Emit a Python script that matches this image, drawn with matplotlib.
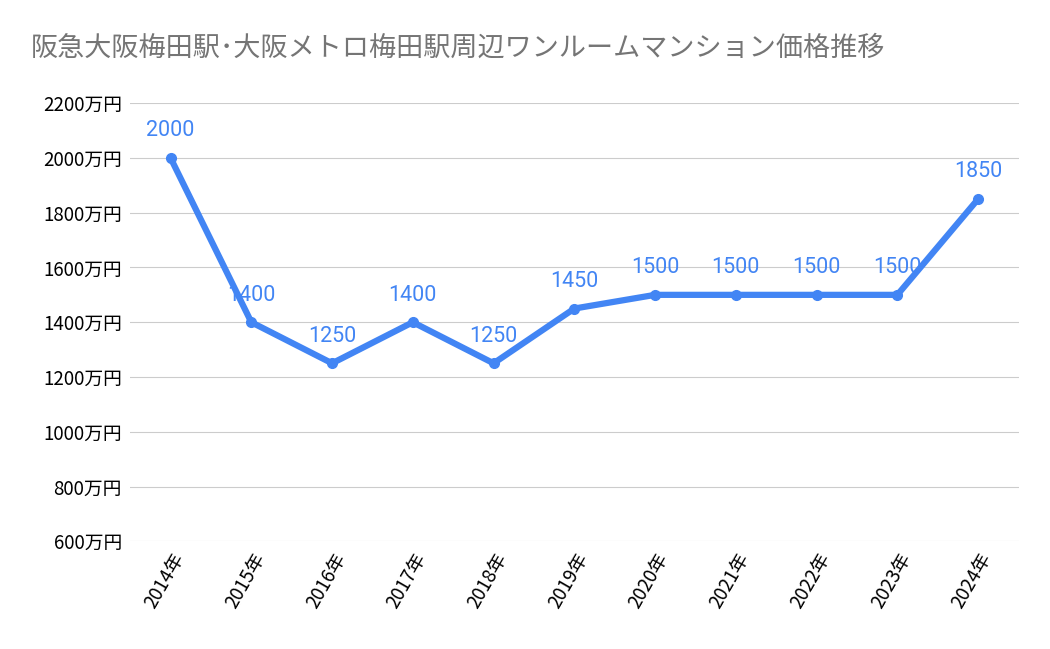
import matplotlib
matplotlib.use("Agg")
import matplotlib.pyplot as plt

plt.rcParams["font.family"] = ["Roboto", "Noto Sans CJK JP"]

years = ["2014年","2015年","2016年","2017年","2018年","2019年","2020年","2021年","2022年","2023年","2024年"]
prices = [2000,1400,1250,1400,1250,1450,1500,1500,1500,1500,1850]
yticks = [600,800,1000,1200,1400,1600,1800,2000,2200]
title = "阪急大阪梅田駅･大阪メトロ梅田駅周辺ワンルームマンション価格推移"

fig = plt.figure(figsize=(10.5,6.49), dpi=100)
ax = fig.add_axes([0.124,0.166,0.846,0.675])
x = list(range(len(years)))
color = "#4285F4"
ax.plot(x, prices, color=color, lw=4.5, marker="o", ms=7, solid_capstyle="round", zorder=3)
for xi, v in zip(x, prices):
    ax.annotate(str(v), (xi, v), xytext=(0, 12), textcoords="offset points",
                ha="center", va="bottom", color=color, fontsize=15.5, zorder=4)
ax.set_xlim(-0.5, 10.5)
ax.set_ylim(600, 2200)
ax.set_yticks(yticks)
ax.set_yticklabels([f"{t}万円" for t in yticks], fontfamily="Noto Sans CJK JP", fontsize=13.5)
ax.set_xticks(x)
ax.set_xticklabels(years, rotation=60, ha="right", rotation_mode="anchor",
                   fontfamily="Noto Sans CJK JP", fontsize=13.5)
ax.grid(axis="y", color="#cccccc", lw=0.8)
ax.tick_params(length=0, pad=6)
for s in ax.spines.values():
    s.set_visible(False)
fig.text(0.029, 1-48/649, title, fontsize=19.5, color="#757575",
         fontfamily="Noto Sans CJK JP", va="center", ha="left")
fig.savefig("out.png", dpi=100)
